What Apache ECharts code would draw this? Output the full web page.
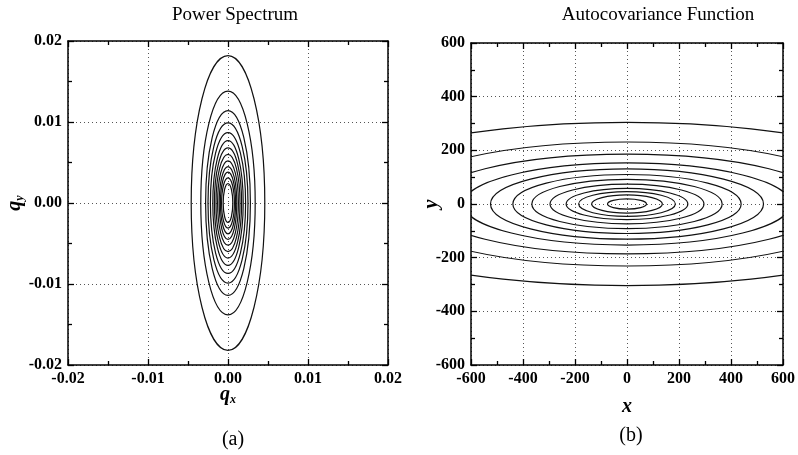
<!DOCTYPE html>
<html>
<head>
<meta charset="utf-8">
<script src="https://cdn.jsdelivr.net/npm/echarts@6/dist/echarts.min.js"></script>
<style>
  html, body { margin: 0; padding: 0; background: #fff; }
  #chart { width: 798px; height: 455px; }
</style>
</head>
<body>
<div id="chart"></div>
<script>
// (a) power spectrum contours: half-width in qx, half-height in qy
var psHalfX = [0.0046, 0.0034, 0.0028, 0.0025, 0.0022, 0.0019, 0.0017, 0.0015, 0.0013, 0.0011, 0.00095, 0.0008, 0.0006];
var psHalfY = [0.0182, 0.0138, 0.0114, 0.0099, 0.0087, 0.0077, 0.0068, 0.0060, 0.0052, 0.0045, 0.0038, 0.0031, 0.0024];
// (b) autocovariance contours: half-width in x, half-height in y
var acHalfX = [1225, 926, 772, 629, 525, 439, 366, 296, 234, 186, 136, 75];
var acHalfY = [304, 231, 186, 153, 131, 110, 92, 74, 58, 46, 34, 19];

var psTicks = [-0.02, 0.02, 0.01];  // min, max, interval
var acTicks = [-600, 600, 200];

var FONT = "'Liberation Serif', 'DejaVu Serif', serif";

var chart = echarts.init(document.getElementById("chart"));

function ellipseItem(params, api) {
  var c = api.coord([0, 0]);
  var s = api.size([api.value(0), api.value(1)]);
  return {
    type: "ellipse",
    shape: { cx: c[0], cy: c[1], rx: s[0], ry: s[1] },
    style: { fill: "none", stroke: "#111", lineWidth: 1.2 }
  };
}

function makeAxis(grid, ticks, pos, withLabel, fmt, name, gap) {
  return {
    type: "value",
    gridIndex: grid,
    position: pos,
    min: ticks[0],
    max: ticks[1],
    interval: ticks[2],
    name: name || "",
    nameLocation: "middle",
    nameGap: gap || 0,
    nameMoveOverlap: false,
    nameTextStyle: {
      fontFamily: FONT,
      color: "#000",
      rich: {
        i: { fontFamily: FONT, fontStyle: "italic", fontWeight: "bold", fontSize: 20, color: "#000" },
        s: { fontFamily: FONT, fontStyle: "italic", fontWeight: "bold", fontSize: 12, color: "#000", padding: [10, 0, 0, 0] }
      }
    },
    axisLine: { show: true, onZero: false, lineStyle: { color: "#000", width: 1.5 } },
    axisTick: { show: true, inside: true, length: 6, lineStyle: { color: "#000", width: 1.3 } },
    minorTick: { show: true, splitNumber: 2, length: 4, lineStyle: { color: "#000", width: 1.3 } },
    axisLabel: {
      show: withLabel,
      margin: 6,
      color: "#000",
      fontFamily: FONT,
      fontWeight: "bold",
      fontSize: 16,
      formatter: fmt
    },
    splitLine: withLabel ? { show: true, lineStyle: { color: "#555", width: 1, type: [1, 3] } } : { show: false }
  };
}

var fmtPs = function (v) { return v.toFixed(2); };
var fmtAc = function (v) { return String(Math.round(v)); };

var titleStyle = { fontFamily: FONT, fontWeight: "normal", fontSize: 19, color: "#000" };
var tagStyle = { fontFamily: FONT, fontWeight: "normal", fontSize: 20, color: "#000" };

chart.setOption({
  backgroundColor: "#fff",
  animation: false,
  title: [
    { text: "Power Spectrum", left: 230, top: 1, textAlign: "center", textStyle: titleStyle },
    { text: "Autocovariance Function", left: 653, top: 1, textAlign: "center", textStyle: titleStyle },
    { text: "(a)", left: 228, top: 425, textAlign: "center", textStyle: tagStyle },
    { text: "(b)", left: 626, top: 421, textAlign: "center", textStyle: tagStyle }
  ],
  grid: [
    { left: 68, top: 41, width: 320, height: 324 },
    { left: 471, top: 43, width: 316, height: 322 }
  ],
  xAxis: [
    makeAxis(0, psTicks, "bottom", true, fmtPs, "{i|q}{s|x}", 19),
    makeAxis(0, psTicks, "top", false, fmtPs),
    makeAxis(1, acTicks, "bottom", true, fmtAc, "{i|x}", 32),
    makeAxis(1, acTicks, "top", false, fmtAc)
  ],
  yAxis: [
    makeAxis(0, psTicks, "left", true, fmtPs, "{i|q}{s|y}", 42),
    makeAxis(0, psTicks, "right", false, fmtPs),
    makeAxis(1, acTicks, "left", true, fmtAc, "{i|y}", 29),
    makeAxis(1, acTicks, "right", false, fmtAc)
  ],
  series: [
    {
      type: "custom",
      xAxisIndex: 0,
      yAxisIndex: 0,
      clip: true,
      renderItem: ellipseItem,
      data: psHalfX.map(function (a, i) { return [a, psHalfY[i]]; })
    },
    {
      type: "custom",
      xAxisIndex: 2,
      yAxisIndex: 2,
      clip: true,
      renderItem: ellipseItem,
      data: acHalfX.map(function (a, i) { return [a, acHalfY[i]]; })
    }
  ]
});
</script>
</body>
</html>
